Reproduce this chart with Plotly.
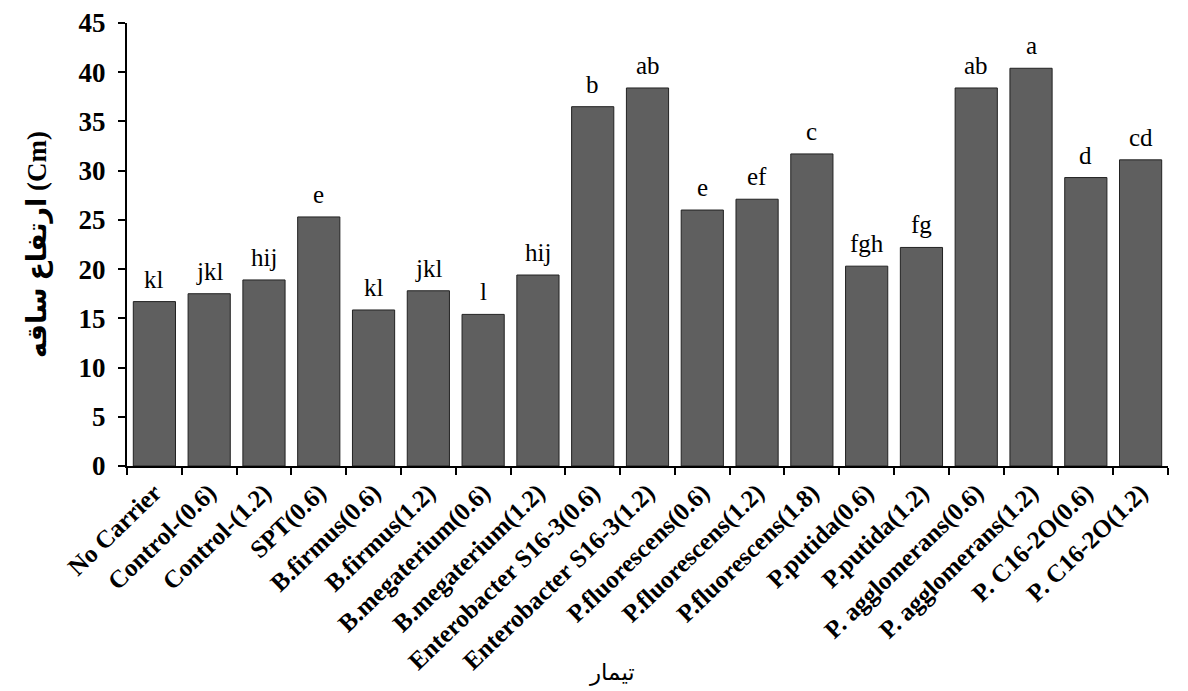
import plotly.graph_objects as go

categories = ["No Carrier", "Control-(0.6)", "Control-(1.2)", "SPT(0.6)", "B.firmus(0.6)",
              "B.firmus(1.2)", "B.megaterium(0.6)", "B.megaterium(1.2)",
              "Enterobacter S16-3(0.6)", "Enterobacter S16-3(1.2)", "P.fluorescens(0.6)",
              "P.fluorescens(1.2)", "P.fluorescens(1.8)", "P.putida(0.6)", "P.putida(1.2)",
              "P. agglomerans(0.6)", "P. agglomerans(1.2)", "P. C16-2O(0.6)", "P. C16-2O(1.2)"]
values = [16.7, 17.5, 18.9, 25.3, 15.85, 17.8, 15.4, 19.4, 36.5, 38.4, 26.0, 27.1, 31.7,
          20.3, 22.2, 38.4, 40.4, 29.3, 31.1]
letters = ["kl", "jkl", "hij", "e", "kl", "jkl", "l", "hij", "b", "ab", "e", "ef", "c",
           "fgh", "fg", "ab", "a", "d", "cd"]
y_ticks = [0, 5, 10, 15, 20, 25, 30, 35, 40, 45]

serif = "Liberation Serif"

fig = go.Figure(go.Bar(
    x=categories, y=values,
    marker=dict(color="#5f5f5f", line=dict(color="#222222", width=1)),
))

for c, v, t in zip(categories, values, letters):
    fig.add_annotation(x=c, y=v, text=t, showarrow=False, yanchor="bottom", yshift=7,
                       font=dict(family=serif, size=25, color="black"))

fig.add_annotation(xref="paper", yref="paper", x=0.466, y=0, yshift=-206, yanchor="middle",
                   text="تیمار", showarrow=False,
                   font=dict(family="DejaVu Sans", size=23, color="black"))

fig.update_layout(
    width=1180, height=683,
    margin=dict(l=119, r=20, t=15, b=225, autoexpand=False),
    plot_bgcolor="white", paper_bgcolor="white",
    bargap=0.23, showlegend=False,
    xaxis=dict(
        tickangle=-44, tickson="boundaries", ticks="outside", ticklen=7, tickwidth=2,
        tickcolor="black", showline=True, linecolor="black", linewidth=2, automargin=False,
        tickfont=dict(family=serif, size=25, color="black", weight="bold"),
    ),
    yaxis=dict(
        range=[0, 45], tickvals=y_ticks, ticks="outside", ticklen=7, tickwidth=2,
        tickcolor="black", showline=True, linecolor="black", linewidth=2, showgrid=False,
        zeroline=False, automargin=False, ticklabelstandoff=7,
        tickfont=dict(family=serif, size=27, color="black", weight="bold"),
        title=dict(text="ارتفاع ساقه (Cm)", font=dict(family="Liberation Serif, DejaVu Sans", size=27, color="black", weight="bold"), standoff=24),
    ),
)

fig.write_html("out.html")
